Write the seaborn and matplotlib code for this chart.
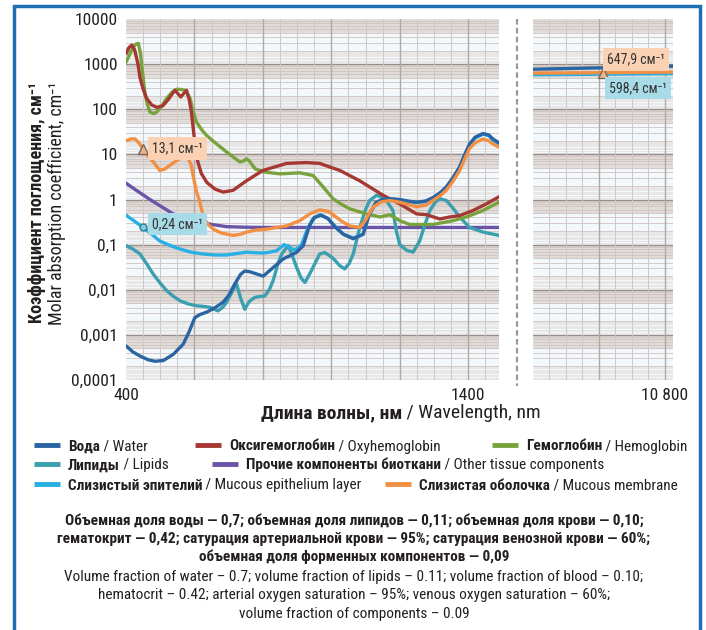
import numpy as np
import pandas as pd
import matplotlib
matplotlib.use("Agg")
import matplotlib.pyplot as plt
import seaborn as sns
from matplotlib.lines import Line2D
from matplotlib.patches import Rectangle
from matplotlib.ticker import NullLocator

# ---------------------------------------------------------------- data
# visible / near-IR part, wavelength in nm, absorption in cm^-1
water_wl = [400, 420, 441, 465, 485, 509, 538, 567, 585, 601, 615, 636, 660, 684, 700, 718,
            735, 747, 762, 777, 801, 830, 859, 898, 918, 935, 950, 970, 990, 1010, 1035, 1064,
            1093, 1110, 1130, 1150, 1171, 1200, 1225, 1249, 1275, 1297, 1320, 1336, 1355, 1375,
            1390, 1404, 1420, 1443, 1460, 1472, 1490]
water_val = [0.00057, 0.00042, 0.00034, 0.00028, 0.00026, 0.00027, 0.00037, 0.00062, 0.0012,
             0.0024, 0.0028, 0.0032, 0.0040, 0.0053, 0.0075, 0.0135, 0.022, 0.026, 0.025, 0.023,
             0.020, 0.031, 0.048, 0.067, 0.095, 0.25, 0.40, 0.45, 0.38, 0.25, 0.17, 0.135, 0.17,
             0.45, 0.85, 1.0, 1.04, 1.0, 0.92, 0.87, 0.92, 1.1, 1.45, 1.9, 3.0, 5.3, 10, 17, 24,
             29, 27, 22, 18]

oxy_wl = [400, 408, 417, 425, 435, 441, 450, 460, 475, 490, 508, 525, 537, 543, 552, 560, 568,
          577, 585, 591, 596, 601, 610, 620, 636, 660, 684, 713, 752, 800, 869, 927, 966, 1025,
          1083, 1151, 1200, 1249, 1278, 1317, 1346, 1375, 1414, 1453, 1490]
oxy_val = [1700, 2300, 2650, 2100, 1000, 500, 280, 175, 125, 110, 120, 170, 230, 263, 220, 187,
           220, 263, 160, 87, 40, 18.6, 6.8, 3.8, 2.4, 1.7, 1.46, 1.6, 2.6, 4.4, 6.3, 6.6, 6.3,
           4.4, 2.6, 1.24, 0.8, 0.48, 0.46, 0.37, 0.41, 0.44, 0.57, 0.8, 1.15]

hb_wl = [400, 410, 421, 430, 436, 442, 446, 455, 462, 470, 480, 490, 505, 519, 535, 548, 560,
         572, 580, 587, 596, 606, 620, 636, 665, 694, 720, 733, 745, 752, 760, 777, 801, 850,
         908, 947, 976, 1005, 1030, 1054, 1103, 1142, 1171, 1200, 1229, 1297, 1356, 1395, 1443,
         1490]
hb_val = [1100, 1600, 2400, 2800, 2880, 1800, 950, 240, 130, 87, 80, 87, 120, 175, 240, 277,
          275, 263, 220, 175, 90, 52, 36, 26, 17, 11.3, 8.0, 6.8, 7.2, 8.0, 7.2, 4.8, 4.1, 3.7,
          3.9, 3.4, 1.9, 1.04, 0.78, 0.62, 0.48, 0.41, 0.46, 0.34, 0.28, 0.28, 0.34, 0.41, 0.57,
          0.87]

lipid_wl = [400, 420, 441, 460, 480, 500, 519, 540, 558, 580, 606, 625, 645, 669, 684, 694, 710,
            723, 735, 747, 760, 777, 806, 820, 830, 845, 855, 874, 885, 898, 912, 923, 940, 966,
            981, 1005, 1025, 1039, 1052, 1064, 1083, 1100, 1112, 1132, 1150, 1161, 1180, 1190,
            1200, 1220, 1239, 1258, 1275, 1288, 1305, 1317, 1336, 1355, 1375, 1404, 1443, 1490]
lipid_val = [0.095, 0.08, 0.062, 0.038, 0.022, 0.014, 0.0095, 0.007, 0.0057, 0.0049, 0.0044,
             0.0043, 0.0041, 0.0034, 0.0042, 0.0053, 0.009, 0.0135, 0.0065, 0.0037, 0.0055,
             0.0068, 0.0073, 0.0105, 0.016, 0.04, 0.062, 0.095, 0.06, 0.032, 0.018, 0.0145,
             0.025, 0.062, 0.067, 0.05, 0.034, 0.029, 0.038, 0.062, 0.24, 0.6, 0.95, 1.24, 1.1,
             0.95, 0.57, 0.2, 0.1, 0.075, 0.068, 0.12, 0.3, 0.57, 0.9, 1.04, 0.95, 0.65, 0.41,
             0.24, 0.19, 0.16]

other_wl = [400, 430, 470, 500, 538, 580, 616, 650, 694, 750, 811, 1000, 1200, 1490]
other_val = [2.3, 1.6, 1.0, 0.72, 0.48, 0.37, 0.32, 0.28, 0.25, 0.243, 0.24, 0.24, 0.24, 0.24]

epi_wl = [400, 425, 450, 475, 499, 530, 558, 590, 626, 660, 694, 720, 752, 780, 801, 820, 840,
          862, 880, 893, 913, 930, 945, 966, 990, 1010, 1035, 1064, 1093, 1110, 1130, 1150, 1171,
          1200, 1225, 1249, 1275, 1297, 1320, 1336, 1355, 1375, 1390, 1404, 1420, 1443, 1460,
          1472, 1490]
epi_val = [0.45, 0.33, 0.24, 0.17, 0.12, 0.095, 0.08, 0.068, 0.062, 0.059, 0.059, 0.063, 0.068,
           0.066, 0.065, 0.068, 0.073, 0.10, 0.085, 0.075, 0.10, 0.22, 0.36, 0.46, 0.38, 0.26,
           0.17, 0.14, 0.17, 0.45, 0.85, 1.0, 1.03, 0.98, 0.9, 0.86, 0.9, 1.08, 1.4, 1.85, 2.9,
           5.1, 9.5, 16, 23, 28, 26, 21, 17]

memb_wl = [400, 415, 426, 438, 450, 465, 480, 499, 515, 528, 550, 567, 582, 590, 596, 606, 616,
           626, 640, 655, 680, 713, 735, 752, 780, 811, 840, 869, 908, 937, 966, 990, 1005, 1030,
           1054, 1083, 1100, 1122, 1145, 1171, 1200, 1249, 1275, 1297, 1320, 1336, 1355, 1375,
           1390, 1404, 1420, 1443, 1460, 1472, 1490]
memb_val = [20, 22, 22, 18, 13.1, 9, 6.8, 4.4, 4.8, 5.7, 7.5, 8.7, 8.0, 6.0, 3.4, 1.5, 0.87,
            0.41, 0.28, 0.22, 0.18, 0.16, 0.17, 0.19, 0.21, 0.22, 0.24, 0.26, 0.34, 0.48, 0.59,
            0.55, 0.46, 0.33, 0.26, 0.24, 0.35, 0.68, 0.88, 0.95, 0.87, 0.69, 0.75, 0.95, 1.25,
            1.6, 2.5, 4.4, 8, 13.5, 18, 22, 20, 17, 14.5]

# mid-IR part
ir_wl = [10000, 10425, 10850]
ir_water = [770, 830, 900]
ir_epi = [580, 598.4, 615]
ir_memb = [630, 647.9, 668]

# labelled points
vis_mark_wl = 450
vis_memb_mark = 13.1
vis_epi_mark = 0.24
ir_mark_wl = 10425
ir_memb_mark = 647.9
ir_epi_mark = 598.4

y_ticks = [1e-4, 1e-3, 1e-2, 1e-1, 1, 10, 100, 1000, 10000]
y_ticklabels = ["0,0001", "0,001", "0,01", "0,1", "1", "10", "100", "1000", "10000"]
vis_ticks = [400, 1400]
vis_ticklabels = ["400", "1400"]
ir_ticks = [10800]
ir_ticklabels = ["10 800"]

legend_items = [
    ("Вода", " / Water", "#2b64a3"),
    ("Оксигемоглобин", " / Oxyhemoglobin", "#a53832"),
    ("Гемоглобин", " / Hemoglobin", "#78a23c"),
    ("Липиды", " / Lipids", "#3a9fae"),
    ("Прочие компоненты биоткани", " / Other tissue components", "#6a54a6"),
    ("Слизистый эпителий", " / Mucous epithelium layer", "#27b0e4"),
    ("Слизистая оболочка", " / Mucous membrane", "#f28f42"),
]
COL = {name: c for name, _, c in legend_items}

notes_ru = [
    "Объемная доля воды — 0,7; объемная доля липидов — 0,11; объемная доля крови — 0,10;",
    "гематокрит — 0,42; сатурация артериальной крови — 95%; сатурация венозной крови — 60%;",
    "объемная доля форменных компонентов — 0,09",
]
notes_en = [
    "Volume fraction of water – 0.7; volume fraction of lipids – 0.11; volume fraction of blood – 0.10;",
    "hematocrit – 0.42; arterial oxygen saturation – 95%; venous oxygen saturation – 60%;",
    "volume fraction of components – 0.09",
]

# ---------------------------------------------------------------- style
sns.set_theme(style="white")
FAM = ["Roboto Condensed", "Roboto", "DejaVu Sans"]
plt.rcParams["font.family"] = FAM
TXT = "#231f20"

W, H = 706, 630
fig = plt.figure(figsize=(W / 100, H / 100), dpi=100)
fig.patch.set_facecolor("white")


def fx(px):
    return px / W


def fy(py):
    return 1 - py / H


top, bot = 19, 380
ax = fig.add_axes([fx(126), fy(bot), (499 - 126) / W, (bot - top) / H])
axr = fig.add_axes([fx(533), fy(bot), (673 - 533) / W, (bot - top) / H])

PAPER = "#f3f8fc"
for a in (ax, axr):
    a.set_yscale("log")
    a.set_ylim(1e-4, 1e4)
    a.set_facecolor(PAPER)
    for s in a.spines.values():
        s.set_visible(False)
    a.yaxis.set_minor_locator(NullLocator())
    a.xaxis.set_minor_locator(NullLocator())
    # log-paper horizontal rules
    for e in range(-4, 4):
        base = 10.0 ** e
        for m in np.arange(1.1, 10, 0.1):
            if abs(m - round(m)) < 1e-6:
                a.axhline(base * m, color="#cdc4c0", lw=0.6, zorder=0.5)
            elif m < 2 or m > 5:
                a.axhline(base * m, color="#e0dad7", lw=0.4, zorder=0.4)
        a.axhline(base, color="#968b87", lw=1.0, zorder=0.6)
    a.tick_params(axis="both", which="major", length=3, width=0.8, color="#777777",
                  labelsize=12.5, labelcolor=TXT, pad=3, direction="out")

ax.set_xlim(400, 1490)
axr.set_xlim(10000, 10850)
for xv in np.arange(450, 1490, 50):
    ax.axvline(xv, color="#b4a7a2" if xv % 200 == 0 else "#d2c7c3",
               lw=1.0 if xv % 200 == 0 else 0.7, zorder=0.6)
for xv in np.arange(10100, 10850, 100):
    axr.axvline(xv, color="#b4a7a2" if xv % 400 == 0 else "#d2c7c3",
                lw=1.0 if xv % 400 == 0 else 0.7, zorder=0.6)

ax.set_yticks(y_ticks)
ax.set_yticklabels(y_ticklabels)
axr.set_yticks(y_ticks)
axr.set_yticklabels([])
axr.tick_params(axis="y", length=0)
ax.set_xticks(vis_ticks)
ax.set_xticklabels(vis_ticklabels)
axr.set_xticks(ir_ticks)
axr.set_xticklabels(ir_ticklabels)

# ---------------------------------------------------------------- curves
LW = 2.4
vis_series = [
    ("Прочие компоненты биоткани", other_wl, other_val, 2),
    ("Липиды", lipid_wl, lipid_val, 3),
    ("Гемоглобин", hb_wl, hb_val, 4),
    ("Оксигемоглобин", oxy_wl, oxy_val, 5),
    ("Слизистый эпителий", epi_wl, epi_val, 6),
    ("Вода", water_wl, water_val, 7),
    ("Слизистая оболочка", memb_wl, memb_val, 8),
]
for name, wl, val, z in vis_series:
    df = pd.DataFrame({"wl": wl, "mu": val})
    sns.lineplot(data=df, x="wl", y="mu", ax=ax, color=COL[name], lw=LW,
                 sort=False, estimator=None, legend=False, zorder=z)

ir_series = [
    ("Слизистый эпителий", ir_wl, ir_epi, 6),
    ("Вода", ir_wl, ir_water, 7),
    ("Слизистая оболочка", ir_wl, ir_memb, 8),
]
for name, wl, val, z in ir_series:
    df = pd.DataFrame({"wl": wl, "mu": val})
    sns.lineplot(data=df, x="wl", y="mu", ax=axr, color=COL[name], lw=LW,
                 sort=False, estimator=None, legend=False, zorder=z)
for a in (ax, axr):
    a.set_xlabel("")
    a.set_ylabel("")

# ---------------------------------------------------------------- value labels
PEACH = "#fad2b3"
ICE = "#a7dbe8"
ANN = dict(textcoords="offset points", size=10, color="#333333", ha="left", va="center",
           zorder=12)
ax.plot([vis_mark_wl], [vis_memb_mark], marker="^", ms=7, mfc="#e9b48d", mec="#7d6556",
        mew=1, zorder=11)
ax.annotate("13,1 см⁻¹", xy=(vis_mark_wl, vis_memb_mark), xytext=(6.5, 0.5),
            bbox=dict(boxstyle="square,pad=0.3", fc=PEACH, ec="none"), **ANN)
ax.plot([vis_mark_wl], [vis_epi_mark], marker="o", ms=5, mfc="#7fc9dd", mec="#2f7f93",
        mew=1, zorder=11)
ax.annotate("0,24 см⁻¹", xy=(vis_mark_wl, vis_epi_mark), xytext=(6.5, 2.5),
            bbox=dict(boxstyle="square,pad=0.3", fc=ICE, ec="none"), **ANN)
axr.plot([ir_mark_wl], [ir_memb_mark], marker="^", ms=7, mfc="#e9b48d", mec="#7d6556",
         mew=1, zorder=11)
axr.annotate("647,9 см⁻¹", xy=(ir_mark_wl, ir_memb_mark), xytext=(3, 9.5),
             bbox=dict(boxstyle="square,pad=0.3", fc=PEACH, ec="none"), **ANN)
axr.annotate("598,4 см⁻¹", xy=(ir_mark_wl, ir_epi_mark), xytext=(4.5, -10),
             bbox=dict(boxstyle="square,pad=0.3", fc=ICE, ec="none"), **ANN)

# ---------------------------------------------------------------- figure text
renderer = fig.canvas.get_renderer()


def width_px(t):
    return t.get_window_extent(renderer).width


def mixed(x_px, y_px, bold, regular, size, center=False):
    t1 = fig.text(0, fy(y_px), bold, fontweight="bold", size=size, color=TXT,
                  ha="left", va="baseline")
    t2 = fig.text(0, fy(y_px), regular, size=size, color=TXT, ha="left", va="baseline")
    w1, w2 = width_px(t1), width_px(t2)
    x0 = x_px - (w1 + w2) / 2 if center else x_px
    t1.set_x(fx(x0))
    t2.set_x(fx(x0 + w1))


# axis titles
fig.text(fx(37), fy(203), "Коэффициент поглощения, см⁻¹", rotation=90, fontweight="bold",
         size=13, color=TXT, ha="center", va="center")
fig.text(fx(57), fy(203), "Molar absorption coefficient, cm⁻¹", rotation=90, size=13,
         color=TXT, ha="center", va="center")
mixed(401, 418, "Длина волны, нм", " / Wavelength, nm", 14, center=True)

# axis break
fig.add_artist(Line2D([fx(517), fx(517)], [fy(19), fy(386)], transform=fig.transFigure,
                      color="#9a9a9a", lw=1.6, ls=(0, (2.5, 1.5))))

# legend
leg_pos = [(34, 449), (195, 449), (492, 449),
           (34, 468), (212, 468),
           (34, 488), (385, 488)]
for (bold, reg, col), (lx, ly) in zip(legend_items, leg_pos):
    fig.add_artist(Line2D([fx(lx), fx(lx + 26)], [fy(ly - 4), fy(ly - 4)],
                          transform=fig.transFigure, color=col, lw=3.5,
                          solid_capstyle="butt"))
    mixed(lx + 34, ly + 1.5, bold, reg, 11)

# notes
for i, line in enumerate(notes_ru):
    fig.text(fx(354), fy(521 + 18 * i), line, fontweight="bold", size=11, color=TXT,
             ha="center", va="center")
for i, line in enumerate(notes_en):
    fig.text(fx(354), fy(577 + 18.5 * i), line, size=11, color=TXT, ha="center", va="center")

# frame
fig.add_artist(Rectangle((fx(14), -0.05), fx(700) - fx(14), fy(6) + 0.05,
                         transform=fig.transFigure, fill=False, ec="#1f6db5", lw=2.5))

fig.savefig("out.png", dpi=100)
